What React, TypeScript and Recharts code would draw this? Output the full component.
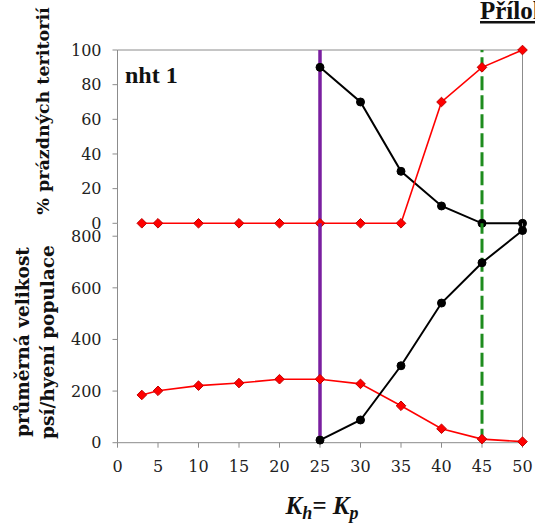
import React from "react";
import { LineChart, Line, XAxis, YAxis, ReferenceLine } from "recharts";

// K_h = K_p values on the x axis
const redK = [3, 5, 10, 15, 20, 25, 30, 35, 40, 45, 50];
const blackK = [25, 30, 35, 40, 45, 50];

// top panel: % empty territories
const redEmpty = [0, 0, 0, 0, 0, 0, 0, 0, 70, 90, 100];
const blackEmpty = [90, 70, 30, 10, 0, 0];

// bottom panel: mean population size
const redPop = [185, 201, 221, 231, 246, 246, 228, 143, 54, 14, 4];
const blackPop = [10, 88, 298, 541, 697, 822];

const xTicks = [0, 5, 10, 15, 20, 25, 30, 35, 40, 45, 50];
const topTicks = [0, 20, 40, 60, 80, 100];
const bottomTicks = [0, 200, 400, 600, 800];

const W = 535;
const H = 527;
const GRAY = "#8c8c8c";
const RED = "#ff0000";
const PURPLE = "#7a1fa0";
const GREEN = "#1e8c1e";
const tickFont = { fill: "#222", fontFamily: "DejaVu Serif", fontSize: 16 };

const toRows = (ks: number[], vs: number[]) => ks.map((k, i) => ({ k, v: vs[i] }));

const Diamond = (props: any) => {
    const { cx, cy, index } = props;
    if (cx == null || cy == null) return <g key={`d-${index}`} />;
    const s = 4.8;
    return (
        <polygon
            key={`d-${index}`}
            points={`${cx},${cy - s} ${cx + s},${cy} ${cx},${cy + s} ${cx - s},${cy}`}
            fill={RED}
            stroke="#c00000"
            strokeWidth={1}
        />
    );
};

const dotBlack = { r: 4, fill: "#000", stroke: "#000", strokeWidth: 1 };

export default function App() {
    return (
        <div style={{ position: "absolute", left: 0, top: 0, width: W, height: H, overflow: "hidden", background: "#fff" }}>
            {/* top panel */}
            <div style={{ position: "absolute", left: 0, top: 0 }}>
                <LineChart width={W} height={H} margin={{ top: 50, right: 12.5, left: 0, bottom: 303.7 }}>
                    <XAxis
                        type="number"
                        dataKey="k"
                        domain={[0, 50]}
                        ticks={xTicks}
                        height={0}
                        tick={false}
                        tickSize={3}
                        stroke={GRAY}
                        allowDuplicatedCategory={false}
                    />
                    <YAxis
                        type="number"
                        domain={[0, 100]}
                        ticks={topTicks}
                        width={117.5}
                        tick={tickFont}
                        tickSize={5}
                        tickMargin={11}
                        stroke={GRAY}
                    />
                    <ReferenceLine y={100} stroke={GRAY} />
                    <ReferenceLine x={50} stroke={GRAY} />
                    <ReferenceLine x={25} stroke={PURPLE} strokeWidth={3.5} />
                    <ReferenceLine x={45} stroke={GREEN} strokeWidth={3} strokeDasharray="14 5" />
                    <Line data={toRows(blackK, blackEmpty)} dataKey="v" stroke="#000" strokeWidth={2} dot={dotBlack} isAnimationActive={false} />
                    <Line data={toRows(redK, redEmpty)} dataKey="v" stroke={RED} strokeWidth={1.6} dot={Diamond} isAnimationActive={false} />
                </LineChart>
            </div>
            {/* bottom panel */}
            <div style={{ position: "absolute", left: 0, top: 0 }}>
                <LineChart width={W} height={H} margin={{ top: 223.3, right: 12.5, left: 0, bottom: 54.3 }}>
                    <XAxis
                        type="number"
                        dataKey="k"
                        domain={[0, 50]}
                        ticks={xTicks}
                        height={30}
                        tick={tickFont}
                        tickSize={5}
                        tickMargin={13}
                        stroke={GRAY}
                        allowDuplicatedCategory={false}
                    />
                    <YAxis
                        type="number"
                        domain={[0, 850]}
                        ticks={bottomTicks}
                        width={117.5}
                        tick={tickFont}
                        tickSize={5}
                        tickMargin={11}
                        stroke={GRAY}
                    />
                    <ReferenceLine x={50} stroke={GRAY} />
                    <ReferenceLine x={25} stroke={PURPLE} strokeWidth={3.5} />
                    <ReferenceLine x={45} stroke={GREEN} strokeWidth={3} strokeDasharray="14 5" />
                    <Line data={toRows(redK, redPop)} dataKey="v" stroke={RED} strokeWidth={1.6} dot={Diamond} isAnimationActive={false} />
                    <Line data={toRows(blackK, blackPop)} dataKey="v" stroke="#000" strokeWidth={2} dot={dotBlack} isAnimationActive={false} />
                </LineChart>
            </div>
            {/* titles and axis names */}
            <svg width={W} height={H} style={{ position: "absolute", left: 0, top: 0, pointerEvents: "none" }}>
                <text
                    x={480}
                    y={19}
                    fontFamily="Liberation Serif"
                    fontWeight="bold"
                    fontSize={25}
                    textDecoration="underline"
                    fill="#111"
                >
                    Příloha 1
                </text>
                <text x={125} y={83} fontFamily="Liberation Serif" fontWeight="bold" fontSize={24} fill="#111">
                    nht 1
                </text>
                <text
                    x={43}
                    y={111}
                    transform="rotate(-90 43 111)"
                    textAnchor="middle"
                    dominantBaseline="central"
                    fontFamily="DejaVu Serif"
                    fontWeight="bold"
                    fontSize={17.5}
                    fill="#111"
                >
                    % prázdných teritorií
                </text>
                <text
                    x={22}
                    y={342}
                    transform="rotate(-90 22 342)"
                    textAnchor="middle"
                    dominantBaseline="central"
                    fontFamily="DejaVu Serif"
                    fontWeight="bold"
                    fontSize={18.5}
                    fill="#111"
                >
                    průměrná velikost
                </text>
                <text
                    x={47}
                    y={342}
                    transform="rotate(-90 47 342)"
                    textAnchor="middle"
                    dominantBaseline="central"
                    fontFamily="DejaVu Serif"
                    fontWeight="bold"
                    fontSize={18.5}
                    fill="#111"
                >
                    psí/hyení populace
                </text>
                <text x={322} y={514} textAnchor="middle" fontFamily="Liberation Serif" fontWeight="bold" fontStyle="italic" fontSize={25} fill="#111">
                    <tspan>K</tspan>
                    <tspan fontSize={18} dy={5}>h</tspan>
                    <tspan dy={-5}>= K</tspan>
                    <tspan fontSize={18} dy={5}>p</tspan>
                </text>
            </svg>
        </div>
    );
}
